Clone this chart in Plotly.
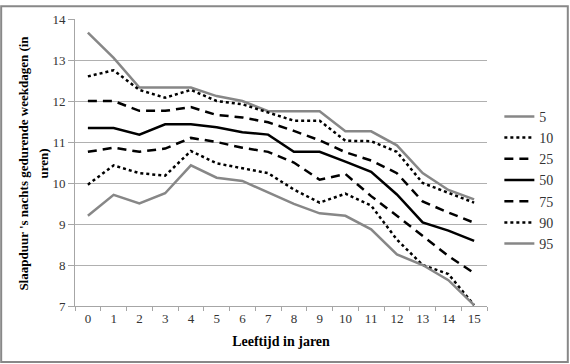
import plotly.graph_objects as go

ages = [str(i) for i in range(16)]
p5 = [13.67, 13.05, 12.33, 12.33, 12.33, 12.12, 12.0, 11.75, 11.75, 11.75, 11.26, 11.26, 10.92, 10.24, 9.83, 9.6]
p10 = [12.6, 12.75, 12.27, 12.08, 12.27, 12.0, 11.92, 11.72, 11.52, 11.52, 11.03, 11.02, 10.76, 10.0, 9.76, 9.52]
p25 = [12.0, 12.0, 11.76, 11.76, 11.85, 11.66, 11.6, 11.48, 11.27, 11.04, 10.75, 10.55, 10.24, 9.55, 9.28, 9.03]
p50 = [11.34, 11.34, 11.18, 11.43, 11.43, 11.36, 11.24, 11.18, 10.76, 10.76, 10.52, 10.27, 9.72, 9.04, 8.84, 8.59]
p75 = [10.76, 10.86, 10.76, 10.84, 11.1, 11.0, 10.86, 10.76, 10.5, 10.08, 10.22, 9.68, 9.2, 8.7, 8.22, 7.8]
p90 = [9.96, 10.43, 10.24, 10.18, 10.78, 10.48, 10.36, 10.24, 9.84, 9.52, 9.74, 9.45, 8.62, 8.0, 7.78, 7.02]
p95 = [9.2, 9.71, 9.5, 9.75, 10.43, 10.13, 10.05, 9.76, 9.49, 9.26, 9.2, 8.87, 8.26, 8.0, 7.63, 7.02]
names = ["5", "10", "25", "50", "75", "90", "95"]
series = [p5, p10, p25, p50, p75, p90, p95]
ytitle_lines = ["Slaapduur 's nachts gedurende weekdagen (in", "uren)"]

gray = "#878787"
styles = [
    dict(color=gray, width=2.5, dash="solid"),
    dict(color="black", width=2.5, dash="dot"),
    dict(color="black", width=2.5, dash="9px,6px"),
    dict(color="black", width=2.5, dash="solid"),
    dict(color="black", width=2.5, dash="9px,6px"),
    dict(color="black", width=2.5, dash="dot"),
    dict(color=gray, width=2.5, dash="solid"),
]

fig = go.Figure()
for n, s, st in zip(names, series, styles):
    fig.add_trace(go.Scatter(x=ages, y=s, name=n, mode="lines", line=st))

W, H = 570, 364
ml, mr, mt, mb = 75, 82, 14, 58
pw, ph = W - ml - mr, H - mt - mb
serif = "Liberation Serif"

fig.update_layout(
    width=W, height=H,
    margin=dict(l=ml, r=mr, t=mt, b=mb, pad=0),
    paper_bgcolor="white", plot_bgcolor="white",
    font=dict(family=serif, size=13, color="#333333"),
    showlegend=True,
    legend=dict(x=1.03, y=0.438, xanchor="left", yanchor="middle",
                font=dict(family=serif, size=14, color="#333333"),
                bgcolor="rgba(0,0,0,0)", tracegroupgap=0, itemwidth=30),
    xaxis=dict(type="category", range=[-0.5, 15.5], tickson="boundaries", ticks="outside", ticklen=4,
               tickcolor="#a6a6a6", showline=True, linecolor="#a6a6a6", linewidth=1,
               showgrid=False, tickfont=dict(family=serif, size=13, color="#333333"),
               ticklabelstandoff=0,
               title=dict(text="<b>Leeftijd in jaren</b>", font=dict(family=serif, size=14, color="black"), standoff=11)),
    yaxis=dict(range=[7, 14], dtick=1, showgrid=True, gridcolor="#b0b0b0", gridwidth=1,
               showline=True, linecolor="#a6a6a6", linewidth=1, zeroline=False,
               ticks="outside", ticklen=6, tickcolor="#a6a6a6",
               tickfont=dict(family=serif, size=13, color="#333333")),
)

for txt, px in zip(ytitle_lines, [23, 43]):
    fig.add_annotation(x=(px - ml) / pw, y=1 - (161 - mt) / ph, xref="paper", yref="paper",
                       xanchor="center", yanchor="middle", textangle=-90, showarrow=False,
                       text="<b>" + txt + "</b>", font=dict(family=serif, size=13, color="black"))

x0 = (1 - ml) / pw
x1 = (W - 1 - ml) / pw
y0 = -(H - 1 - mt - ph) / ph
y1 = 1 + (mt - 1) / ph
fig.add_shape(type="rect", xref="paper", yref="paper", x0=x0, x1=x1, y0=y0, y1=y1,
              line=dict(color="#888888", width=2), layer="above")

fig.write_html("out.html", config={"displayModeBar": False},
               post_script="document.body.style.margin='0';document.body.style.padding='0';")
